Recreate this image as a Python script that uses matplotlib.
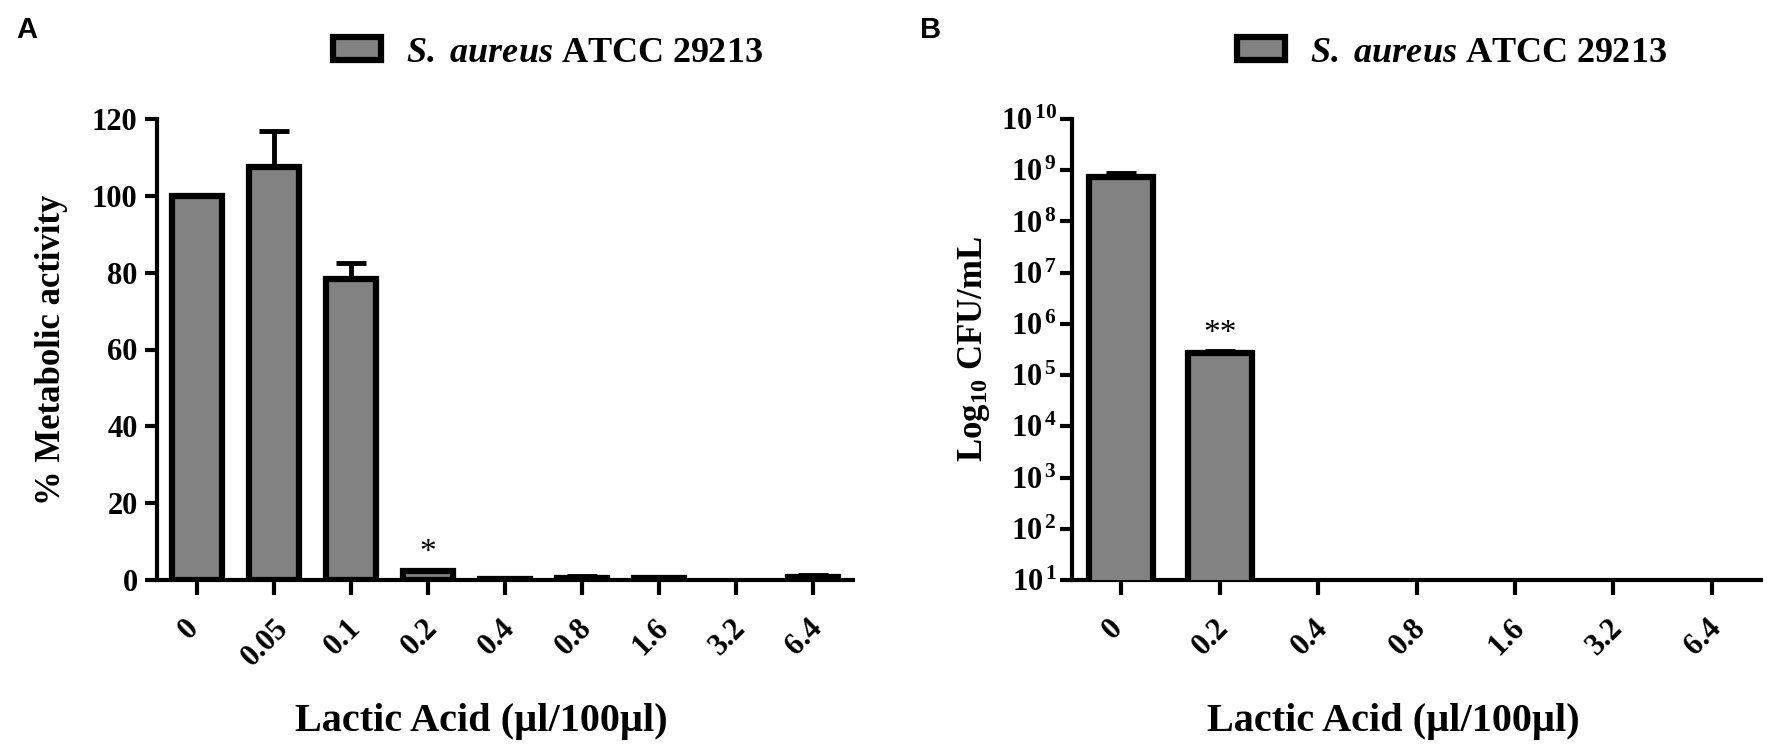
import numpy as np
import matplotlib
matplotlib.use('Agg')
import matplotlib.pyplot as plt
import matplotlib.transforms as mtransforms
from matplotlib.patches import Patch
from matplotlib.ticker import FixedLocator, FuncFormatter, NullLocator

plt.rcParams['font.family'] = ['Liberation Serif', 'DejaVu Serif']
plt.rcParams['font.weight'] = 'bold'
plt.rcParams['axes.labelweight'] = 'bold'
plt.rcParams['mathtext.fontset'] = 'custom'
plt.rcParams['mathtext.rm'] = 'Liberation Serif:bold'
plt.rcParams['mathtext.bf'] = 'Liberation Serif:bold'
plt.rcParams['mathtext.it'] = 'Liberation Serif:italic:bold'
plt.rcParams['mathtext.bfit'] = 'Liberation Serif:italic:bold'

# panel A: metabolic activity
conc_a = ['0', '0.05', '0.1', '0.2', '0.4', '0.8', '1.6', '3.2', '6.4']
activity = [100, 107.5, 78.3, 2.4, 0.2, 0.5, 0.4, 0, 0.8]
activity_err = [0, 9.5, 4.3, 0.3, 0.2, 0.6, 0.4, 0, 0.6]
sig_a = ['', '', '', '*', '', '', '', '', '']

# panel B: viable counts
conc_b = ['0', '0.2', '0.4', '0.8', '1.6', '3.2', '6.4']
cfu = [7.5e8, 2.7e5, 0, 0, 0, 0, 0]
cfu_err = [1.2e8, 0.3e5, 0, 0, 0, 0, 0]
sig_b = ['', '**', '', '', '', '', '']

strain = r'$\mathbfit{S.}$ $\mathbfit{aureus}$ ATCC 29213'
xlab = 'Lactic Acid (\u00b5l/100\u00b5l)'

BAR = '#828282'
W, H = 1775, 750


def style(ax):
    for s in ['top', 'right']:
        ax.spines[s].set_visible(False)
    for s in ['left', 'bottom']:
        ax.spines[s].set_linewidth(3)
    ax.tick_params(axis='y', length=9, width=3, pad=5, labelsize=22)
    ax.tick_params(axis='x', length=11, width=3, pad=13, labelsize=22)


def draw_bars(ax, vals, errs, sig, star_fac, log=False):
    x = np.arange(len(vals))
    vals = np.asarray(vals, dtype=float)
    errs = np.asarray(errs, dtype=float)
    m = vals > 0
    ax.bar(x[m], vals[m], width=0.65, color=BAR, edgecolor='black',
           linewidth=4.5, zorder=3)
    ax.errorbar(x[m], vals[m], yerr=[np.zeros(m.sum()), errs[m]], fmt='none',
                ecolor='black', elinewidth=3.5, capsize=11, capthick=3.5,
                zorder=2)
    for xi, v, e, s in zip(x, vals, errs, sig):
        if s:
            top = v + e
            y = top * star_fac if log else top + star_fac
            ax.text(xi, y, s, ha='center', va='baseline', fontsize=24,
                    fontweight='normal')
    return x


def xticks(ax, fig, x, labels):
    ax.set_xticks(x)
    ax.set_xticklabels(labels, rotation=45, ha='center')
    off = mtransforms.ScaledTranslation(-6 / 72, 0, fig.dpi_scale_trans)
    for lab in ax.get_xticklabels():
        lab.set_transform(lab.get_transform() + off)


fig = plt.figure(figsize=(W / 100, H / 100), dpi=100)
fig.patch.set_facecolor('white')

bot = 1 - 580 / H
hgt = 461 / H
ax_a = fig.add_axes([157 / W, bot, 696 / W, hgt])
ax_b = fig.add_axes([1072 / W, bot, 689 / W, hgt])

# --- A ---
style(ax_a)
xa = draw_bars(ax_a, activity, activity_err, sig_a, 2.3)
ax_a.set_xlim(-0.52, len(conc_a) - 0.48)
ax_a.set_ylim(0, 120)
ax_a.set_yticks(np.arange(0, 121, 20))
xticks(ax_a, fig, xa, conc_a)
ax_a.set_ylabel('% Metabolic activity', fontsize=25, fontweight='bold')
ax_a.yaxis.label.set_va('center')
ax_a.yaxis.set_label_coords((52 - 157) / 696, 0.5)
ax_a.set_xlabel(xlab, fontsize=29, fontweight='bold')
ax_a.xaxis.label.set_va('center')
ax_a.xaxis.set_label_coords(0.466, -0.306)

# --- B ---
style(ax_b)
ax_b.set_yscale('log')
xb = draw_bars(ax_b, cfu, cfu_err, sig_b, 1.45, log=True)
ax_b.set_xlim(-0.5, len(conc_b) - 0.5)
ax_b.set_ylim(1e1, 1e10)
ax_b.yaxis.set_major_locator(FixedLocator(10.0 ** np.arange(1, 11)))
ax_b.yaxis.set_major_formatter(
    FuncFormatter(lambda v, p: r'$\mathbf{10}^{\,\mathbf{%d}}$' % round(np.log10(v))))
ax_b.yaxis.set_minor_locator(NullLocator())
ax_b.tick_params(axis='y', pad=2)
xticks(ax_b, fig, xb, conc_b)
ax_b.set_ylabel(r'Log$_{\mathbf{10}}$ CFU/mL', fontsize=25, fontweight='bold')
ax_b.yaxis.label.set_va('center')
ax_b.yaxis.set_label_coords((974 - 1072) / 689, 0.5)
ax_b.set_xlabel(xlab, fontsize=29, fontweight='bold')
ax_b.xaxis.label.set_va('center')
ax_b.xaxis.set_label_coords(0.466, -0.306)

# legends
for ax, x0 in [(ax_a, 333), (ax_b, 1237)]:
    h = Patch(facecolor=BAR, edgecolor='black', linewidth=4.5)
    ax.legend([h], [strain], loc='center left',
              bbox_to_anchor=(x0 / W, 1 - 53 / H), bbox_transform=fig.transFigure,
              frameon=False, prop={'family': 'Liberation Serif', 'weight': 'bold', 'size': 26},
              handlelength=1.33, handleheight=0.6, handletextpad=0.7,
              borderpad=0, borderaxespad=0)

# panel letters
for lbl, x0 in [('A', 16), ('B', 920)]:
    fig.text(x0 / W, 1 - 30 / H, lbl, ha='left', va='center', fontsize=21,
             fontweight='bold', family=['Liberation Sans', 'DejaVu Sans'])

fig.savefig('out.png', dpi=100, facecolor='white')
